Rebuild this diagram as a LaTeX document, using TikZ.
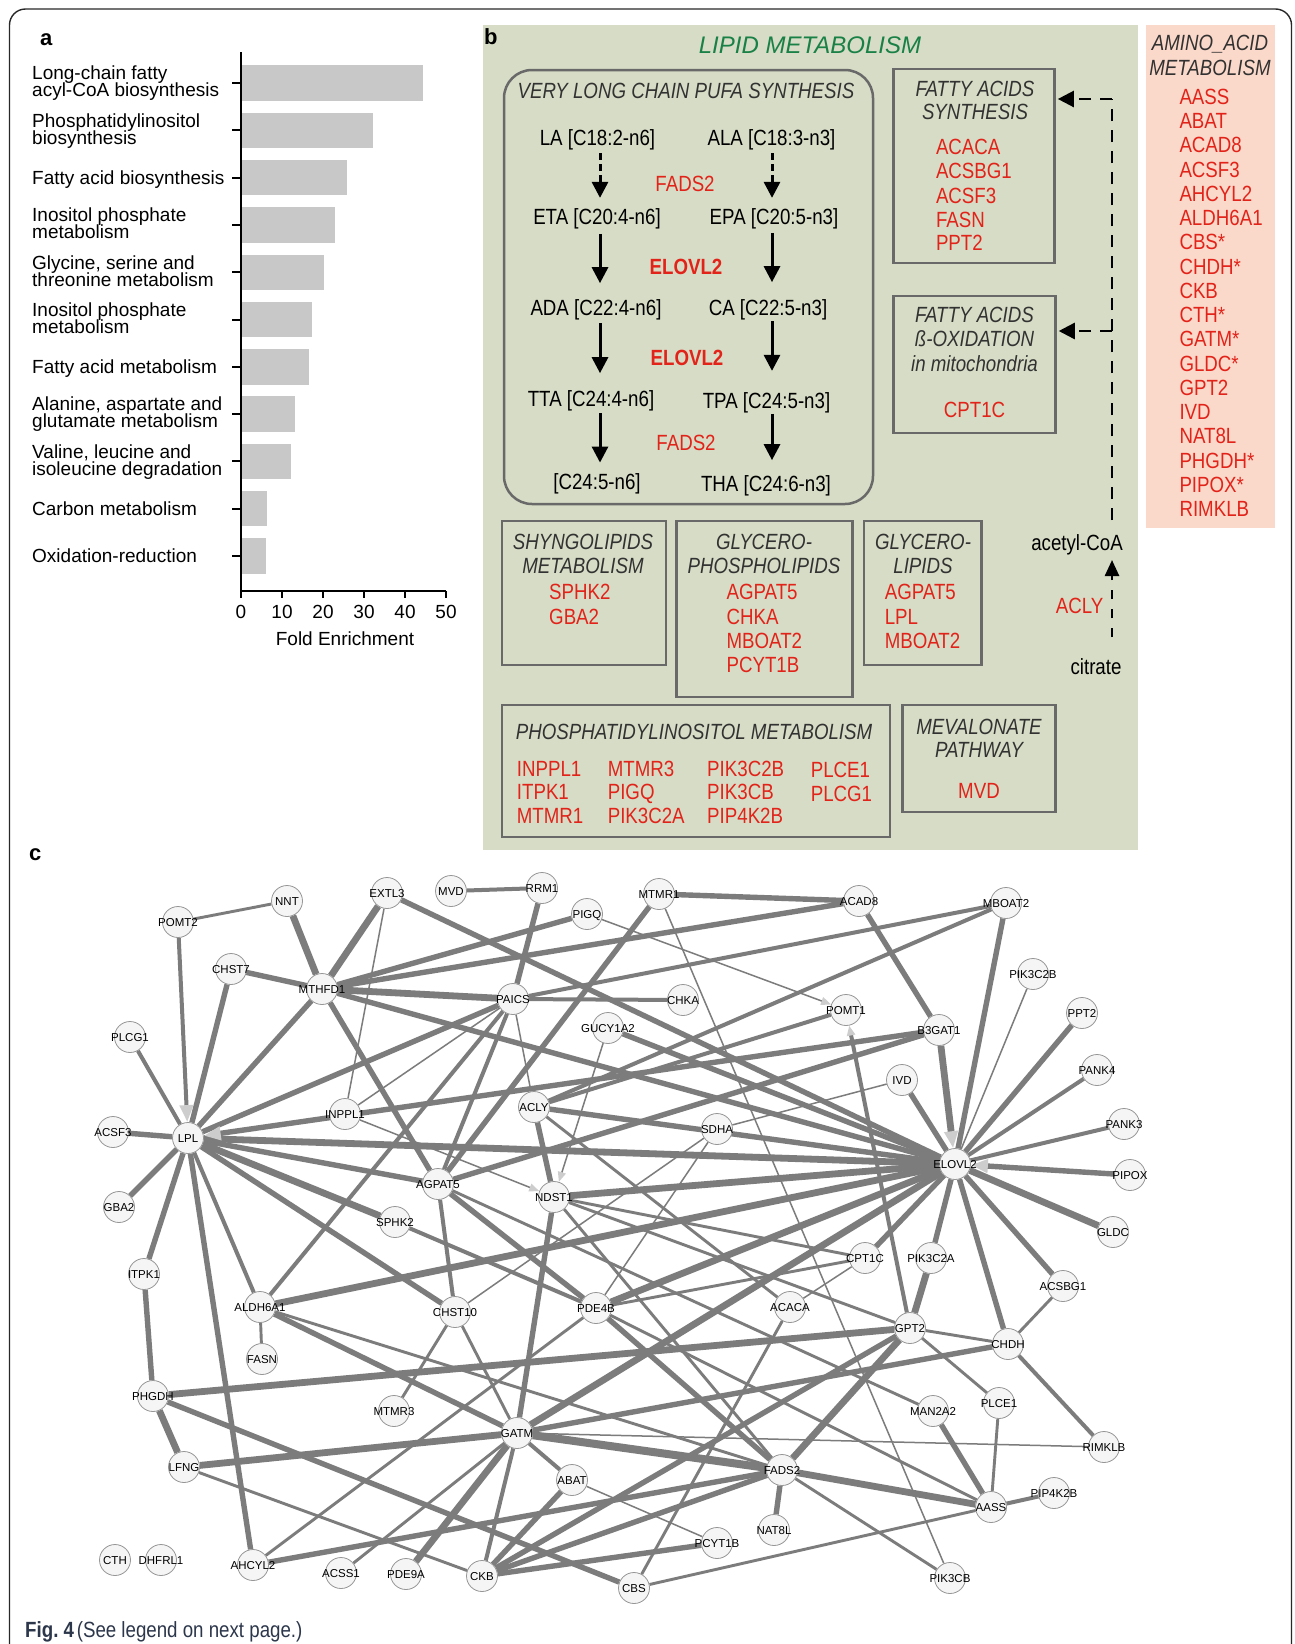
\documentclass[tikz,border=0pt]{standalone}
\usepackage{fontspec}
\setmainfont{Liberation Sans}
\newfontfamily\cfont{Liberation Sans}[FakeStretch=0.85]
\usetikzlibrary{arrows.meta}
\pgfdeclarelayer{background}
\pgfsetlayers{background,main}
\definecolor{barfill}{RGB}{200,200,200}
\definecolor{panelb}{RGB}{214,220,197}
\definecolor{salmon}{RGB}{251,217,202}
\definecolor{gred}{RGB}{226,35,26}
\definecolor{ggreen}{RGB}{25,128,70}
\definecolor{boxgray}{RGB}{105,105,105}
\definecolor{titlegray}{RGB}{50,50,50}
\definecolor{edgegray}{RGB}{124,124,124}
\definecolor{nodefill}{RGB}{245,245,245}
\definecolor{nodeline}{RGB}{150,150,150}
\definecolor{tipgray}{RGB}{205,205,205}
\definecolor{capblue}{RGB}{45,55,75}
\definecolor{framecol}{RGB}{40,40,40}
\newcommand\fszLab{\fontsize{19}{17}\selectfont}
\newcommand\fszB{\cfont\fontsize{22}{24}\selectfont}
\newcommand\fszNet{\fontsize{11.5}{12}\selectfont}
\tikzset{
  bw/.style={inner sep=0pt, anchor=base west},
  bc/.style={inner sep=0pt, anchor=base},
  axisline/.style={line width=2pt, black},
  gbox/.style={draw=boxgray, line width=2.5pt, inner sep=0pt},
  btitle/.style={bc, font=\fszB\itshape, text=titlegray},
  gene/.style={bw, font=\fszB, text=gred},
  molec/.style={bc, font=\fszB, text=black},
  parrow/.style={line width=3pt, -{Triangle[length=16pt,width=16pt]}},
  pdash/.style={dash pattern=on 12pt off 9pt, line width=2.5pt},
  gn/.style={circle, draw=nodeline, fill=nodefill, line width=0.8pt, minimum size=31pt, inner sep=0pt},
  nlabel/.style={inner sep=0pt, font=\fszNet, text=black, text height=8.2pt, text depth=0pt},
  e1/.style={edgegray, line width=1.5pt},
  e2/.style={edgegray, line width=2.9pt},
  e3/.style={edgegray, line width=4pt},
  e4/.style={edgegray, line width=5.4pt},
  e5/.style={edgegray, line width=6.8pt},
  e6/.style={edgegray, line width=8pt},
  tipA/.style={-{Triangle[length=17pt,width=13pt,color=tipgray]}},
  tipB/.style={-{Triangle[length=10pt,width=8pt,color=tipgray]}},
}
\begin{document}
\begin{tikzpicture}[x=1pt,y=-1pt]
\useasboundingbox (0,0) rectangle (1295,1644);
\begin{pgfonlayer}{background}
\fill[white] (0,0) rectangle (1295,1644);
\end{pgfonlayer}
\draw[framecol, line width=1.4pt, rounded corners=16pt] (9.5,1660) -- (9.5,9) -- (1291.5,9) -- (1291.5,1660);

% ---------------- panel a ----------------
\node[bw, font=\bfseries\fontsize{22}{24}\selectfont] (pa) at (40,45) {a};
\foreach \i/\v in {0/44.4,1/32.2,2/25.9,3/22.9,4/20.2,5/17.4,6/16.5,7/13.1,8/12.2,9/6.4,10/6.2}{
  \pgfmathsetmacro\c{83+47.3*\i}
  \fill[barfill] (242,\c-17.7) rectangle ({241+4.1*\v},\c+17.7);
  \draw[axisline] (232,\c) -- (241,\c);
}
\draw[axisline] (241,52) -- (241,591) -- (446,591);
\foreach \v in {0,10,20,30,40,50}{
  \draw[axisline] ({241+4.1*\v},591) -- ({241+4.1*\v},598);
  \node[bc, font=\fszLab] (tk\v) at ({241+4.1*\v},618.8) {\v};
}
\node[bc, font=\fszLab] (xlab) at (345,645.4) {Fold Enrichment};
\foreach \t/\y [count=\k] in {Long-chain fatty/79.8, acyl-CoA biosynthesis/96.8,
  Phosphatidylinositol/127.1, biosynthesis/144.1, Fatty acid biosynthesis/184.4,
  Inositol phosphate/221.7, metabolism/238.7, {Glycine, serine and}/269, threonine metabolism/286,
  Inositol phosphate/316.3, metabolism/333.3, Fatty acid metabolism/373.6,
  {Alanine, aspartate and}/410.9, glutamate metabolism/427.9,
  {Valine, leucine and}/458.2, isoleucine degradation/475.2,
  Carbon metabolism/515.5, Oxidation-reduction/562.8}{
  \node[bw, font=\fszLab] (al\k) at (32,\y) {\t};
}

% ---------------- panel b ----------------
\fill[panelb] (483,25) rectangle (1138,850);
\node[bw, font=\bfseries\fontsize{22}{24}\selectfont] (pb) at (484,44) {b};
\node[bc, font=\itshape\fontsize{24}{26}\selectfont, text=ggreen] (lipid) at (810,53.6) {LIPID METABOLISM};
\draw[boxgray, line width=2.5pt, rounded corners=28pt] (504,70) rectangle (873,504);
\node[btitle] (pufa) at (686,98.7) {VERY LONG CHAIN PUFA SYNTHESIS};
\node[molec] (la) at (597.5,145.3) {LA [C18:2-n6]};
\node[molec] (ala) at (771.5,145.3) {ALA [C18:3-n3]};
\node[molec] (eta) at (597,224) {ETA [C20:4-n6]};
\node[molec] (epa) at (774,224) {EPA [C20:5-n3]};
\node[molec] (ada) at (596,315.3) {ADA [C22:4-n6]};
\node[molec] (ca) at (768,315.3) {CA [C22:5-n3]};
\node[molec] (tta) at (591,406.3) {TTA [C24:4-n6]};
\node[molec] (tpa) at (766.5,408) {TPA [C24:5-n3]};
\node[molec] (c245) at (597,489.7) {[C24:5-n6]};
\node[molec] (tha) at (766,491.3) {THA [C24:6-n3]};
\node[bc, font=\fszB, text=gred] (fadsa) at (685,191) {FADS2};
\node[bc, font=\fszB\bfseries, text=gred] (elovla) at (686,274.7) {ELOVL2};
\node[bc, font=\fszB\bfseries, text=gred] (elovlb) at (687,365.3) {ELOVL2};
\node[bc, font=\fszB, text=gred] (fadsb) at (686,450.7) {FADS2};
\coordinate (lx) at (600,0);
\coordinate (rx) at (772,0);
\draw[parrow, dash pattern=on 7pt off 4pt, shorten <=3pt, shorten >=10pt] (la.south -| lx) -- (eta.north -| lx);
\draw[parrow, dash pattern=on 7pt off 4pt, shorten <=3pt, shorten >=10pt] (ala.south -| rx) -- (epa.north -| rx);
\draw[parrow, shorten <=5pt, shorten >=16pt] (eta.south -| lx) -- (ada.north -| lx);
\draw[parrow, shorten <=4pt, shorten >=17pt] (epa.south -| rx) -- (ca.north -| rx);
\draw[parrow, shorten <=3pt, shorten >=17pt] (ada.south -| lx) -- (tta.north -| lx);
\draw[parrow, shorten <=1pt, shorten >=21pt] (ca.south -| rx) -- (tpa.north -| rx);
\draw[parrow, shorten <=2pt, shorten >=11pt] (tta.south -| lx) -- (c245.north -| lx);
\draw[parrow, shorten <=1pt, shorten >=15pt] (tpa.south -| rx) -- (tha.north -| rx);

% fatty acid synthesis
\node[gbox, minimum width=161pt, minimum height=194pt] (fas) at (974.1,166.2) {};
\node[btitle] (fas1) at (975,96.3) {FATTY ACIDS};
\node[btitle] (fas2) at (975,119.7) {SYNTHESIS};
\foreach \g/\y [count=\k] in {ACACA/154.7,ACSBG1/178.7,ACSF3/203,FASN/227,PPT2/250.7}
  \node[gene] (fasg\k) at (935.8,\y) {\g};
% beta oxidation
\node[gbox, minimum width=162pt, minimum height=137pt] (fao) at (974.5,364.4) {};
\node[btitle] (fao1) at (974.5,322.3) {FATTY ACIDS};
\node[btitle] (fao2) at (974.5,346.3) {ß-OXIDATION};
\node[btitle] (fao3) at (974.5,371.3) {in mitochondria};
\node[bc, font=\fszB, text=gred] (faog) at (974.5,417.3) {CPT1C};
% sphingolipids
\node[gbox, minimum width=164pt, minimum height=144pt] (sph) at (584,593) {};
\node[btitle] (sph1) at (583,549.7) {SHYNGOLIPIDS};
\node[btitle] (sph2) at (583,573) {METABOLISM};
\node[gene] (sphg1) at (549,599.7) {SPHK2};
\node[gene] (sphg2) at (549,624) {GBA2};
% glycerophospholipids
\node[gbox, minimum width=176pt, minimum height=176pt] (gpl) at (764.4,608.9) {};
\node[btitle] (gpl1) at (764,549.7) {GLYCERO-};
\node[btitle] (gpl2) at (764,573) {PHOSPHOLIPIDS};
\foreach \g/\y [count=\k] in {AGPAT5/599.7,CHKA/624,MBOAT2/648,PCYT1B/672.3}
  \node[gene] (gplg\k) at (726.4,\y) {\g};
% glycerolipids
\node[gbox, minimum width=117.5pt, minimum height=144pt] (gl) at (922.8,593) {};
\node[btitle] (gl1) at (923,549.7) {GLYCERO-};
\node[btitle] (gl2) at (923,573) {LIPIDS};
\foreach \g/\y [count=\k] in {AGPAT5/599.7,LPL/624,MBOAT2/648}
  \node[gene] (glg\k) at (884.6,\y) {\g};
% phosphatidylinositol
\node[gbox, minimum width=388pt, minimum height=132pt] (pim) at (695.9,770.9) {};
\node[btitle] (pim1) at (694,739.7) {PHOSPHATIDYLINOSITOL METABOLISM};
\foreach \g/\x/\y [count=\k] in {INPPL1/516.7/776.3, ITPK1/516.7/799.7, MTMR1/516.7/823,
   MTMR3/607.6/776.3, PIGQ/607.6/799.7, PIK3C2A/607.6/823,
   PIK3C2B/707/776.3, PIK3CB/707/799.7, PIP4K2B/707/823,
   PLCE1/810.6/777.3, PLCG1/810.6/801.3}
  \node[gene] (pimg\k) at (\x,\y) {\g};
% mevalonate
\node[gbox, minimum width=153pt, minimum height=107pt] (mev) at (979,758.4) {};
\node[btitle] (mev1) at (979,734) {MEVALONATE};
\node[btitle] (mev2) at (979,757.3) {PATHWAY};
\node[bc, font=\fszB, text=gred] (mevg) at (979,798) {MVD};
% acetyl-CoA route
\node[bc, font=\fszB] (acoa) at (1077,550.7) {acetyl-CoA};
\node[bc, font=\fszB, text=gred] (acly) at (1079.5,613) {ACLY};
\node[bc, font=\fszB] (citr) at (1096,674.7) {citrate};
\coordinate (j1) at (1112,99);
\coordinate (j2) at (1112,331);
\coordinate (jb) at (1112,520);
\coordinate (c1) at (1112,637);
\coordinate (c2) at (1112,560);
\draw[pdash] (jb) -- (j1);
\draw[pdash, -{Triangle[length=16pt,width=16pt]}, shorten >=2pt] (j1) -- (j1 -| fas.east);
\draw[pdash, -{Triangle[length=16pt,width=16pt]}, shorten >=2pt] (j2) -- (j2 -| fao.east);
\draw[pdash, dash pattern=on 9pt off 10pt, -{Triangle[length=16pt,width=14pt]}] (c1) -- (c2);

% amino acid box
\fill[salmon] (1146,25) rectangle (1275,528);
\node[btitle] (aa1) at (1210,50.7) {AMINO\_ACID};
\node[btitle] (aa2) at (1210,75) {METABOLISM};
\foreach \g [count=\k from 0] in {AASS,ABAT,ACAD8,ACSF3,AHCYL2,ALDH6A1,CBS*,CHDH*,CKB,CTH*,GATM*,GLDC*,GPT2,IVD,NAT8L,PHGDH*,PIPOX*,RIMKLB}
  \node[gene] (aag\k) at (1179.3,{104.4+24.24*\k}) {\g};

% ---------------- panel c ----------------
\node[bw, font=\bfseries\fontsize{22}{24}\selectfont] (pc) at (29,860) {c};
\foreach \n/\x/\y in {POMT2/178/922, NNT/287/901, EXTL3/387/893, MVD/451/891, RRM1/542/888,
  MTMR1/659/894, ACAD8/859/901, MBOAT2/1006/903, PIGQ/587/914, CHST7/231/969, MTHFD1/322/989,
  PAICS/513/999, CHKA/683/1000, POMT1/846/1010, PIK3C2B/1033/974, PLCG1/130/1037,
  GUCY1A2/608/1028, B3GAT1/939/1030, PPT2/1082/1013, IVD/902/1080, PANK4/1097/1070,
  ACLY/534/1107, INPPL1/345/1114, SDHA/717/1129, PANK3/1124/1124, ACSF3/113/1132,
  LPL/188/1138, ELOVL2/955/1164, PIPOX/1130/1175, AGPAT5/438/1184, NDST1/554/1197,
  GBA2/119/1207, SPHK2/395/1222, GLDC/1113/1232, CPT1C/865/1258, PIK3C2A/931/1258,
  ACSBG1/1063/1286, ITPK1/144/1274, ALDH6A1/260/1307, CHST10/455/1312, PDE4B/596/1308,
  ACACA/790/1307, GPT2/910/1328, CHDH/1008/1344, FASN/262/1359, PHGDH/153/1396,
  MTMR3/394/1411, GATM/517/1433, MAN2A2/933/1411, PLCE1/999/1403, RIMKLB/1104/1447,
  LFNG/184/1467, ABAT/572/1480, FADS2/782/1470, PIP4K2B/1054/1493, AASS/991/1507,
  NAT8L/774/1530, PCYT1B/717/1543, CTH/115/1560, DHFRL1/161/1560, AHCYL2/253/1565,
  ACSS1/341/1573, PDE9A/406/1574, CKB/482/1576, CBS/634/1588, PIK3CB/950/1578}{
  \node[gn] (\n) at (\x,\y) {};
  \node[nlabel] (l\n) at (\n.center) {\n};
}
\begin{pgfonlayer}{background}
\foreach \a/\b in {EXTL3/INPPL1, PAICS/INPPL1, PAICS/ACLY, MTMR1/PIK3CB, IVD/SDHA, SDHA/PDE4B,
  SDHA/CHST10, PIK3C2B/ELOVL2, GATM/RIMKLB, CPT1C/ACACA, ABAT/PCYT1B}
  \draw[e1] (\a) -- (\b);
\foreach \a/\b in {POMT2/NNT, ACLY/ACACA, NDST1/CPT1C, NDST1/GPT2, NDST1/FADS2, LFNG/CKB,
  ALDH6A1/FASN, ALDH6A1/FADS2, CHST10/MTMR3, CHST10/GATM, AGPAT5/MAN2A2, ACSS1/GATM,
  AHCYL2/PDE4B, PDE4B/CPT1C, PDE4B/AASS, ACACA/CBS, GPT2/CHDH, GPT2/PLCE1, CHDH/ACSBG1,
  PLCE1/AASS, FADS2/PIK3CB, CBS/AASS}
  \draw[e2] (\a) -- (\b);
\foreach \a/\b in {MVD/RRM1, PLCG1/LPL, PAICS/AGPAT5, PAICS/ALDH6A1, PAICS/CHKA, PAICS/MBOAT2,
  LPL/ALDH6A1, ACLY/POMT1, ACLY/MBOAT2, PANK4/ELOVL2, PANK3/ELOVL2, AGPAT5/CHST10,
  SPHK2/PDE4B, GATM/CKB, GATM/ABAT, CHDH/RIMKLB, AASS/PIP4K2B}
  \draw[e3] (\a) -- (\b);
\foreach \a/\b in {EXTL3/ELOVL2, RRM1/PAICS, CHST7/MTHFD1, CHST7/LPL, MTHFD1/LPL, MTHFD1/PIGQ,
  MTHFD1/ACAD8, MTHFD1/AGPAT5, MTHFD1/ELOVL2, ACSF3/LPL, GBA2/LPL, PAICS/LPL, LPL/AGPAT5,
  LPL/CHST10, LPL/AHCYL2, LPL/ITPK1, MTMR1/ACAD8, MTMR1/AGPAT5, ACAD8/B3GAT1, AGPAT5/B3GAT1,
  GUCY1A2/ELOVL2, IVD/ELOVL2, ACLY/ELOVL2, ACLY/NDST1, NDST1/GATM, MBOAT2/ELOVL2, PPT2/ELOVL2,
  ITPK1/PHGDH, PHGDH/CBS, ALDH6A1/GATM, AGPAT5/PDE4B, GATM/CHDH, AHCYL2/FADS2, PDE4B/FADS2,
  CPT1C/ELOVL2, CKB/GPT2, PIK3C2A/ELOVL2, CHDH/ELOVL2, ACSBG1/ELOVL2, MAN2A2/AASS,
  FADS2/NAT8L, FADS2/CKB, ABAT/CKB, CKB/PCYT1B}
  \draw[e4] (\a) -- (\b);
\foreach \a/\b in {NNT/MTHFD1, EXTL3/MTHFD1, MTHFD1/PAICS, LPL/ELOVL2, LPL/SPHK2, NDST1/ELOVL2,
  GLDC/ELOVL2, PHGDH/LFNG, PHGDH/GPT2, LFNG/GATM, ALDH6A1/ELOVL2, GATM/PDE9A, GATM/ELOVL2,
  PDE4B/ELOVL2, GPT2/FADS2, GPT2/PIK3C2A, FADS2/AASS}
  \draw[e5] (\a) -- (\b);
\draw[e6] (GATM) -- (FADS2);
\draw[e3,tipA] (POMT2) -- (LPL);
\draw[e4,tipA] (B3GAT1) -- (LPL);
\draw[e1,tipB] (INPPL1) -- (NDST1);
\draw[e1,tipB] (GUCY1A2) -- (NDST1);
\draw[e1,tipB] (PIGQ) -- (POMT1);
\draw[e3,tipB] (GPT2) -- (POMT1);
\draw[e5,tipA] (B3GAT1) -- (ELOVL2);
\draw[e4,tipA] (PIPOX) -- (ELOVL2);
\end{pgfonlayer}

% caption
\node[bw, text=capblue] (cap) at (25,1637) {{\cfont\bfseries\fontsize{22}{24}\selectfont Fig.~4} {\cfont\fontsize{22}{24}\selectfont (See legend on next page.)}};
\end{tikzpicture}
\end{document}
